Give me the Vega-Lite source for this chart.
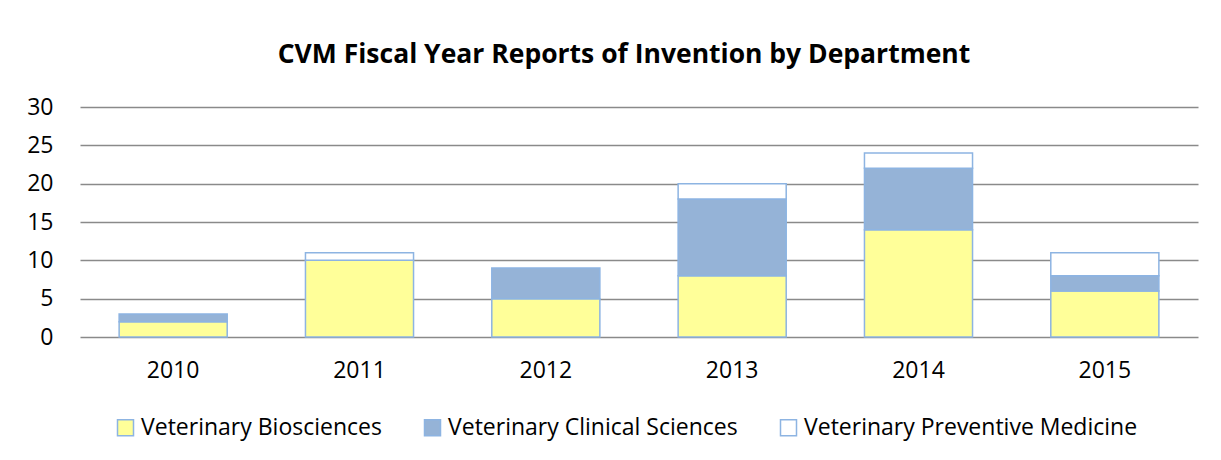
{
  "$schema": "https://vega.github.io/schema/vega-lite/v6.json",
  "autosize": "none",
  "width": 1118,
  "height": 230,
  "padding": {"left": 80, "top": 107, "right": 23, "bottom": 123},
  "background": "white",
  "title": {
    "text": "CVM Fiscal Year Reports of Invention by Department",
    "font": "Open Sans",
    "fontSize": 26.5,
    "fontWeight": "bold",
    "color": "#000000",
    "anchor": "middle",
    "frame": "group",
    "baseline": "alphabetic",
    "offset": 7,
    "dx": -15
  },
  "data": {
    "values": [
      {"year": "2010", "dept": "Veterinary Biosciences", "count": 2, "ord": 1},
      {"year": "2010", "dept": "Veterinary Clinical Sciences", "count": 1, "ord": 2},
      {"year": "2011", "dept": "Veterinary Biosciences", "count": 10, "ord": 1},
      {"year": "2011", "dept": "Veterinary Preventive Medicine", "count": 1, "ord": 3},
      {"year": "2012", "dept": "Veterinary Biosciences", "count": 5, "ord": 1},
      {"year": "2012", "dept": "Veterinary Clinical Sciences", "count": 4, "ord": 2},
      {"year": "2013", "dept": "Veterinary Biosciences", "count": 8, "ord": 1},
      {"year": "2013", "dept": "Veterinary Clinical Sciences", "count": 10, "ord": 2},
      {"year": "2013", "dept": "Veterinary Preventive Medicine", "count": 2, "ord": 3},
      {"year": "2014", "dept": "Veterinary Biosciences", "count": 14, "ord": 1},
      {"year": "2014", "dept": "Veterinary Clinical Sciences", "count": 8, "ord": 2},
      {"year": "2014", "dept": "Veterinary Preventive Medicine", "count": 2, "ord": 3},
      {"year": "2015", "dept": "Veterinary Biosciences", "count": 6, "ord": 1},
      {"year": "2015", "dept": "Veterinary Clinical Sciences", "count": 2, "ord": 2},
      {"year": "2015", "dept": "Veterinary Preventive Medicine", "count": 3, "ord": 3}
    ]
  },
  "mark": {"type": "bar", "stroke": "#8DB4E2", "strokeWidth": 1.5},
  "encoding": {
    "x": {
      "field": "year",
      "type": "nominal",
      "scale": {"paddingInner": 0.42, "paddingOuter": 0.21},
      "axis": {
        "title": null,
        "labelAngle": 0,
        "domain": false,
        "ticks": false,
        "labelPadding": 22,
        "labelFont": "Open Sans",
        "labelFontSize": 23,
        "labelColor": "#000000"
      }
    },
    "y": {
      "field": "count",
      "type": "quantitative",
      "stack": "zero",
      "scale": {"domain": [0, 30]},
      "axis": {
        "title": null,
        "values": [0, 5, 10, 15, 20, 25, 30],
        "domain": false,
        "ticks": false,
        "labelPadding": 27,
        "labelFont": "Open Sans",
        "labelFontSize": 23,
        "labelColor": "#000000",
        "gridColor": "#8a8a8a",
        "gridWidth": 1.6,
        "gridOpacity": 1
      }
    },
    "color": {
      "field": "dept",
      "type": "nominal",
      "scale": {
        "domain": ["Veterinary Biosciences", "Veterinary Clinical Sciences", "Veterinary Preventive Medicine"],
        "range": ["#FFFF99", "#95B3D7", "#FFFFFF"]
      },
      "legend": {
        "title": null,
        "orient": "none",
        "legendX": 34,
        "legendY": 309,
        "direction": "horizontal",
        "symbolType": "square",
        "symbolSize": 256,
        "symbolStrokeColor": "#8DB4E2",
        "symbolStrokeWidth": 1.5,
        "symbolOpacity": 1,
        "labelFont": "Open Sans",
        "labelFontSize": 23,
        "labelColor": "#000000",
        "labelOffset": 4,
        "columnPadding": 39,
        "labelLimit": 500
      }
    },
    "order": {"field": "ord", "type": "quantitative"}
  },
  "config": {"view": {"stroke": null}}
}
